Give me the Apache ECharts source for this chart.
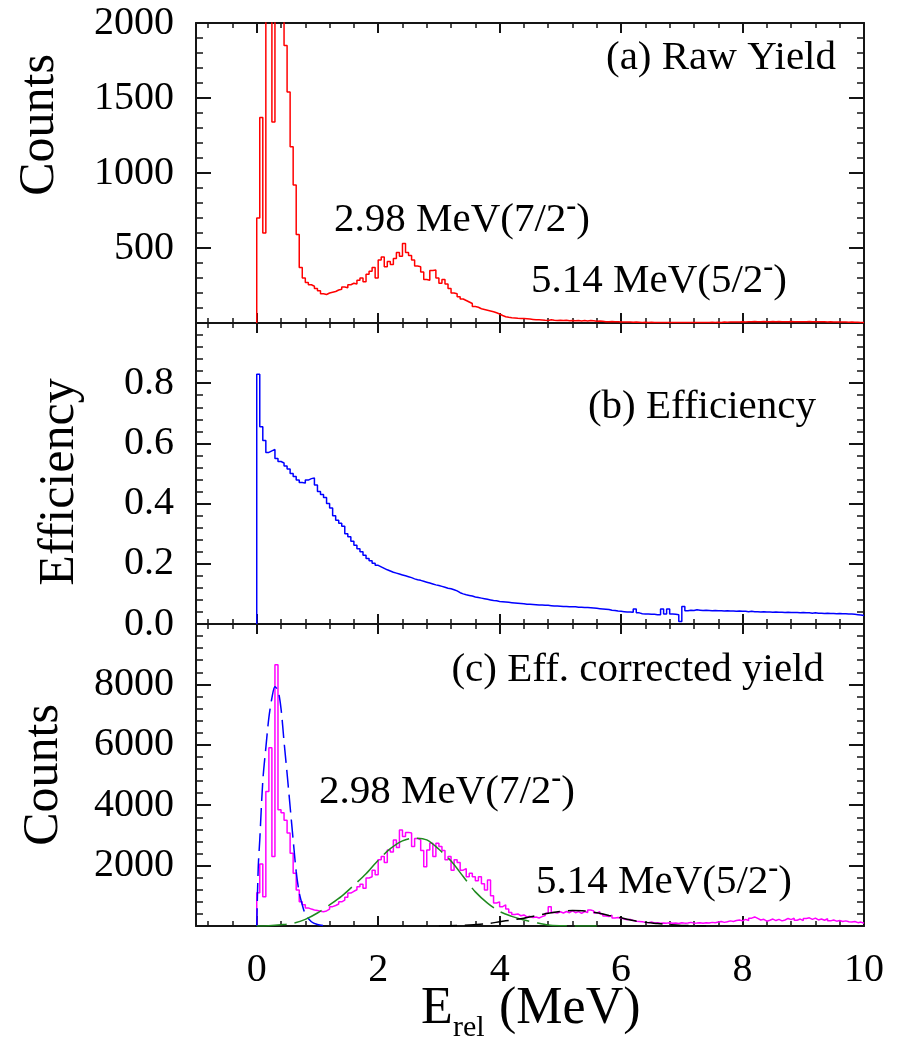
<!DOCTYPE html>
<html><head><meta charset="utf-8">
<script src="https://cdn.jsdelivr.net/npm/echarts@6/dist/echarts.min.js"></script>
<style>html,body{margin:0;padding:0;background:#fff}#c{width:898px;height:1043px}</style>
</head><body><div id="c"></div><script>
// ---- data (bin width 0.05 MeV, lower edges 0.00 ... 9.95) ----
const BIN = 0.05;
const rawYield = [
700,1370,600,2540,3390,1340,4700,2100,2050,1850,1540,1175,920,590,370,300,270,255,245,230,
215,195,190,200,205,210,220,225,240,235,255,265,260,285,300,275,325,345,370,300,
420,440,375,410,390,430,470,445,530,470,450,420,380,375,340,290,285,350,353,300,
265,290,260,230,200,195,175,160,150,140,130,110,105,95,90,85,80,75,68,60,
50,42,38,35,33,31,30,30,28,26,24,22,21,20,18,17,22,18,17,18,
16,18,15,17,15,16,14,16,14,17,15,12,13,11,9,9,10,8,8,7,
6,7,6,5,6,5,4,5,4,5,4,4,3,4,3,4,3,3,4,3,
3,4,3,4,3,3,4,3,4,5,4,5,4,6,5,6,7,6,7,8,
7,9,8,10,9,8,10,8,9,10,8,10,9,8,9,10,8,9,8,9,
9,10,8,9,8,9,8,7,8,7,7,6,7,6,5,6,5,5,4,4];
const efficiency = [
0.83,0.655,0.61,0.57,0.575,0.58,0.55,0.54,0.535,0.525,0.515,0.50,0.49,0.478,0.47,0.468,0.478,0.483,0.485,0.462,
0.44,0.43,0.42,0.40,0.385,0.36,0.345,0.335,0.325,0.30,0.29,0.275,0.262,0.25,0.24,0.228,0.218,0.21,0.202,0.195,
0.19,0.185,0.18,0.176,0.172,0.169,0.166,0.163,0.16,0.157,0.154,0.15,0.147,0.145,0.142,0.139,0.136,0.133,0.13,0.128,
0.125,0.122,0.119,0.117,0.114,0.11,0.104,0.10,0.097,0.095,0.093,0.09,0.088,0.086,0.084,0.082,0.08,0.078,0.077,0.075,
0.074,0.073,0.072,0.071,0.070,0.069,0.068,0.067,0.066,0.066,0.065,0.064,0.063,0.063,0.062,0.062,0.061,0.060,0.060,0.059,
0.058,0.058,0.057,0.057,0.057,0.056,0.056,0.055,0.055,0.054,0.053,0.052,0.051,0.050,0.049,0.048,0.046,0.045,0.043,0.042,
0.041,0.040,0.040,0.039,0.050,0.037,0.034,0.033,0.033,0.032,0.032,0.031,0.031,0.050,0.033,0.050,0.033,0.032,0.031,0.008,
0.058,0.044,0.046,0.045,0.047,0.046,0.045,0.046,0.045,0.044,0.045,0.044,0.044,0.043,0.044,0.043,0.043,0.042,0.043,0.042,
0.042,0.041,0.042,0.041,0.041,0.040,0.041,0.040,0.040,0.039,0.040,0.039,0.039,0.038,0.039,0.038,0.038,0.038,0.037,0.038,
0.037,0.037,0.036,0.037,0.036,0.036,0.035,0.036,0.035,0.035,0.034,0.035,0.034,0.034,0.033,0.033,0.032,0.031,0.030,0.028];
const corrYield = [
1100,2050,970,4450,5900,2300,8650,3850,3750,3500,3080,2410,1750,1190,800,700,600,560,530,510,
490,475,500,560,640,680,730,800,860,950,1090,1150,1200,1300,1380,1250,1590,1630,1850,1700,
2190,2300,2100,2520,2450,2850,2600,3180,2960,3100,3080,2630,2900,2850,2500,1960,2520,2740,2300,2740,
2630,2500,2190,2300,1850,2190,2100,1850,1900,1630,1750,1630,1500,1630,1400,1190,1520,1000,760,800,
640,700,560,450,380,400,340,365,300,320,280,300,265,310,350,420,640,450,430,470,
430,480,440,500,440,475,420,480,450,530,500,430,470,400,330,310,360,265,280,260,
230,210,220,180,160,150,140,120,110,130,100,110,90,100,95,110,90,100,85,110,
95,100,120,95,100,110,90,105,100,120,110,130,150,120,140,170,150,180,200,170,
220,180,260,300,250,200,220,160,190,230,180,220,170,200,250,210,260,190,230,180,
250,270,220,260,200,230,190,240,170,200,160,180,150,170,140,130,150,110,130,90];
// fit components (MeV, counts)
const fitGsX = [0,0.025,0.05,0.1,0.15,0.2,0.25,0.3,0.35,0.4,0.45,0.5,0.55,0.6,0.65,0.7,0.75,0.8,0.9,1.0,1.1,1.2];
const fitGsY = [0,1950,2850,4800,5900,6900,7550,7920,7800,7200,6100,5050,3950,2850,1800,1100,700,400,140,50,15,0];
const fit298X = [0,0.2,0.4,0.6,0.8,1.0,1.2,1.4,1.6,1.8,2.0,2.2,2.4,2.6,2.8,3.0,3.2,3.4,3.6,3.8,4.0,4.2,4.4,4.6,4.8,5.0,5.2,5.4,5.6];
const fit298Y = [0,10,40,90,220,430,700,990,1350,1730,2180,2560,2820,2910,2850,2540,2150,1640,1130,760,480,320,200,110,35,10,3,1,0];
const fit514X = [3.0,3.4,3.8,4.0,4.2,4.4,4.6,4.8,5.0,5.2,5.4,5.6,5.8,6.0,6.2,6.4,6.6,6.8,7.0,7.4];
const fit514Y = [0,20,80,140,200,260,340,420,480,510,500,440,350,270,180,120,80,40,20,0];
// ticks / labels
const xMajorTicks = [0,2,4,6,8,10];
const xMinorTicks = [-0.8,-0.4,0.4,0.8,1.2,1.6,2.4,2.8,3.2,3.6,4.4,4.8,5.2,5.6,6.4,6.8,7.2,7.6,8.4,8.8,9.2,9.6];
const panelLabels = ['(a) Raw Yield','(b) Efficiency','(c) Eff. corrected yield'];
const peakLabels = ['2.98 MeV(7/2', '5.14 MeV(5/2'];

// ---- build ----
const FONT = "'Liberation Serif','Times New Roman',serif";
const AX = '#151515';
function hist(vals){
  const d=[[0,0]];
  for(let i=0;i<vals.length;i++) d.push([+(i*BIN).toFixed(2), vals[i]]);
  d.push([+(vals.length*BIN).toFixed(2), vals[vals.length-1]]);
  return d;
}
function pairs(xs,ys){return xs.map((x,i)=>[x,ys[i]]);}
const grids=[{left:196,top:23,width:668,height:300},{left:196,top:323,width:668,height:301},{left:196,top:624,width:668,height:302}];
const xAxis=[], yAxis=[];
grids.forEach((g,gi)=>{
  const base={gridIndex:gi,type:'value',min:-1,max:10,splitLine:{show:false}};
  ['bottom','top'].forEach(pos=>{
    xAxis.push(Object.assign({},base,{position:pos,
      axisLine:{show:true,onZero:false,lineStyle:{color:AX,width:2}},
      axisTick:{show:true,inside:true,length:10,customValues:xMajorTicks,lineStyle:{color:AX,width:2}},
      axisLabel:{show:(gi===2&&pos==='bottom'),customValues:xMajorTicks,margin:24,fontSize:40,fontFamily:FONT,color:'#000'}}));
    xAxis.push(Object.assign({},base,{position:pos,
      axisLine:{show:false,onZero:false},
      axisTick:{show:true,inside:true,length:5,customValues:xMinorTicks,lineStyle:{color:AX,width:1.5}},
      axisLabel:{show:false,customValues:xMinorTicks}}));
  });
});
const yCfg=[
  {min:0,max:2000,interval:500,showMin:false,showMax:true,fmt:v=>String(v)},
  {min:0,max:1.0,interval:0.2,showMin:true,showMax:false,fmt:v=>v.toFixed(1)},
  {min:0,max:10000,interval:2000,showMin:false,showMax:false,fmt:v=>String(v)}];
yCfg.forEach((c,gi)=>{
  ['left','right'].forEach(pos=>{
    yAxis.push({gridIndex:gi,type:'value',position:pos,min:c.min,max:c.max,interval:c.interval,
      splitLine:{show:false},
      axisLine:{show:true,onZero:false,lineStyle:{color:AX,width:2}},
      axisTick:{show:true,inside:true,length:15,lineStyle:{color:AX,width:2}},
      minorTick:{show:true,splitNumber:5,length:7,lineStyle:{color:AX,width:1.5}},
      axisLabel:{show:pos==='left',showMinLabel:c.showMin,showMaxLabel:c.showMax,formatter:c.fmt,margin:22,fontSize:40,fontFamily:FONT,color:'#000'}});
  });
});
function histSeries(vals,color,xi,yi){
  return {type:'line',step:'end',data:hist(vals),xAxisIndex:xi,yAxisIndex:yi,symbol:'none',
    lineStyle:{color:color,width:1.5},clip:true,animation:false,z:3};
}
function fitSeries(xs,ys,color,dash){
  return {type:'line',data:pairs(xs,ys),xAxisIndex:8,yAxisIndex:4,symbol:'none',smooth:0.3,
    lineStyle:{color:color,width:1.5,type:dash},clip:true,animation:false,z:4};
}
const series=[
  histSeries(rawYield,'#ff0000',0,0),
  histSeries(efficiency,'#0000ff',4,2),
  histSeries(corrYield,'#ff00ff',8,4),
  fitSeries(fitGsX,fitGsY,'#0000ff',[18,7]),
  fitSeries(fit298X,fit298Y,'#1f8a1f',[30,8]),
  fitSeries(fit514X,fit514Y,'#000000',[18,8])
];
function txt(x,y,text,size,align,rot){
  return {type:'text',x:x,y:y,rotation:rot||0,z:10,style:{text:text,font:size+'px '+FONT,fill:'#000',align:align,verticalAlign:'middle'}};
}
function peak(x,y,label){
  return {type:'text',x:x,y:y,z:10,style:{text:'{n|'+label+'}{s|-}{n|)}',align:'left',verticalAlign:'middle',
    rich:{n:{fontSize:41,fontFamily:FONT,fill:'#000',lineHeight:56,verticalAlign:'middle'},
          s:{fontSize:30,fontWeight:'bold',fontFamily:FONT,fill:'#000',lineHeight:10,verticalAlign:'top'}}}};
}
const graphic=[
  txt(40,125,'Counts',50,'center',Math.PI/2),
  txt(60,482,'Efficiency',50,'center',Math.PI/2),
  txt(44,775,'Counts',50,'center',Math.PI/2),
  txt(836,58,panelLabels[0],41,'right'),
  txt(816,407,panelLabels[1],41,'right'),
  txt(824,670,panelLabels[2],41,'right'),
  peak(334,220,peakLabels[0]),
  peak(531,281,peakLabels[1]),
  peak(319,792,peakLabels[0]),
  peak(536,882,peakLabels[1]),
  txt(421,1009,'E',52,'left'),
  txt(453,1028,'rel',30,'left'),
  txt(499,1009,'(MeV)',52,'left')
];
const chart=echarts.init(document.getElementById('c'),null,{renderer:'canvas'});
chart.setOption({animation:false,backgroundColor:'#fff',grid:grids,xAxis:xAxis,yAxis:yAxis,series:series,graphic:graphic});
</script></body></html>
